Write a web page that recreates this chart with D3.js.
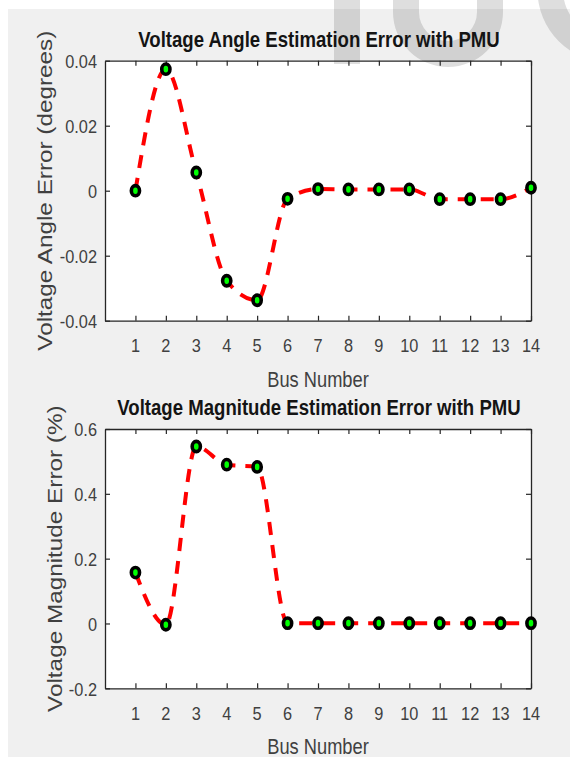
<!DOCTYPE html>
<html>
<head>
<meta charset="utf-8">
<script src="https://cdn.jsdelivr.net/npm/d3@7"></script>
<style>
  html, body { margin: 0; padding: 0; background: #ffffff; }
  svg { display: block; }
  text { font-family: "Liberation Sans", Arial, sans-serif; }
</style>
</head>
<body>
<svg id="chart" width="570" height="758"></svg>
<script>
// ---------------- data ----------------
const buses = [1, 2, 3, 4, 5, 6, 7, 8, 9, 10, 11, 12, 13, 14];
const angleError = [0.0000, 0.0374, 0.0056, -0.0277, -0.0337, -0.0025, 0.0005,
                    0.0004, 0.0004, 0.0004, -0.0026, -0.0026, -0.0026, 0.0009];
const magnitudeError = [0.157, -0.004, 0.546, 0.490, 0.483, 0.001, 0.001,
                        0.001, 0.001, 0.001, 0.001, 0.001, 0.001, 0.001];
const angleTicks = [-0.04, -0.02, 0, 0.02, 0.04];
const angleTickLabels = ["-0.04", "-0.02", "0", "0.02", "0.04"];
const magTicks = [-0.2, 0, 0.2, 0.4, 0.6];
const magTickLabels = ["-0.2", "0", "0.2", "0.4", "0.6"];
const xTickLabels = buses.map(String);
const titles = ["Voltage Angle Estimation Error  with PMU",
                "Voltage Magnitude Estimation Error with PMU"];
const yLabels = ["Voltage Angle Error (degrees)", "Voltage Magnitude Error (%)"];
const xLabel = "Bus Number";

// ---------------- layout ----------------
const svg = d3.select("#chart");
const SX = 0.86; // horizontal squeeze of the original picture's text

svg.append("rect").attr("x", 8).attr("y", 9).attr("width", 562).attr("height", 748)
  .attr("fill", "#f0f0f0");

const panels = [
  { top: 60.7, bottom: 320.7, ticks: angleTicks, labels: angleTickLabels,
    domain: [-0.04, 0.04], data: angleError, title: titles[0], ylab: yLabels[0], ylabX: 52 },
  { top: 429, bottom: 688.3, ticks: magTicks, labels: magTickLabels,
    domain: [-0.2, 0.6], data: magnitudeError, title: titles[1], ylab: yLabels[1], ylabX: 62 }
];
const left = 105, right = 531;

function addText(g, x, y, str, o) {
  const t = g.append("text")
    .attr("transform", `translate(${x},${y}) scale(${o.sx ?? SX},1)` + (o.rot ? ` rotate(${o.rot})` : ""))
    .attr("text-anchor", o.anchor || "middle")
    .attr("font-size", o.size)
    .attr("font-weight", o.weight || "normal")
    .attr("fill", o.fill || "#404040")
    .text(str);
  return t;
}

const x = d3.scaleLinear().domain([0, 14]).range([left, right]);

// plot area backgrounds
panels.forEach(p => {
  svg.append("rect").attr("x", left).attr("y", p.top)
    .attr("width", right - left).attr("height", p.bottom - p.top).attr("fill", "#ffffff");
});

// watermark (decorative)
const wm = svg.append("g").attr("fill", "#000").attr("fill-opacity", 0.13);
wm.append("rect").attr("x", 334).attr("y", 0).attr("width", 26).attr("height", 64);
wm.append("path").attr("d",
  "M393,0 L393,12 A55,55 0 0 0 503,12 L503,0 L477,0 L477,12 A29,29 0 0 1 419,12 L419,0 Z");
wm.append("path").attr("fill-rule", "evenodd").attr("d",
  "M682.5,-10 A72.5,72.5 0 1 0 537.5,-10 A72.5,72.5 0 1 0 682.5,-10 Z " +
  "M657,-10 A47,47 0 1 0 563,-10 A47,47 0 1 0 657,-10 Z");

panels.forEach(p => {
  const y = d3.scaleLinear().domain(p.domain).range([p.bottom, p.top]);
  const g = svg.append("g");

  // axes (ticks inward, box on)
  const ax = [
    g.append("g").attr("transform", `translate(0,${p.bottom})`)
      .call(d3.axisBottom(x).tickValues(buses).tickSize(-5).tickSizeOuter(0).tickFormat("")),
    g.append("g").attr("transform", `translate(0,${p.top})`)
      .call(d3.axisTop(x).tickValues(buses).tickSize(-5).tickSizeOuter(0).tickFormat("")),
    g.append("g").attr("transform", `translate(${left},0)`)
      .call(d3.axisLeft(y).tickValues(p.ticks).tickSize(-5).tickSizeOuter(0).tickFormat("")),
    g.append("g").attr("transform", `translate(${right},0)`)
      .call(d3.axisRight(y).tickValues(p.ticks).tickSize(-5).tickSizeOuter(0).tickFormat(""))
  ];
  ax.forEach(a => {
    a.selectAll("path.domain").attr("stroke", "#262626").attr("stroke-width", 1.3);
    a.selectAll(".tick line").attr("stroke", "#262626").attr("stroke-width", 1.2);
  });

  // tick labels
  buses.forEach((b, i) => addText(g, x(b), p.bottom + 31.5, xTickLabels[i], { size: 19 }));
  p.ticks.forEach((t, i) => addText(g, 97, y(t) + 7.3, p.labels[i], { size: 19, anchor: "end" }));

  // axis labels and title
  addText(g, (left + right) / 2, p.bottom + 66, xLabel, { size: 21.5, sx: 0.85 });
  addText(g, p.ylabX, (p.top + p.bottom) / 2, p.ylab, { size: 24.3, rot: -90 });
  addText(g, (left + right) / 2 + 1, p.top - 14, p.title,
    { size: 22, weight: "bold", sx: 0.845, fill: "#141414" });

  // red dashed curve
  const line = d3.line().x((d, i) => x(buses[i])).y(d => y(d)).curve(d3.curveMonotoneX);
  g.append("path").datum(p.data).attr("d", line)
    .attr("fill", "none").attr("stroke", "#ff0000").attr("stroke-width", 4)
    .attr("stroke-dasharray", "13,10");

  // markers
  g.selectAll("ellipse.m").data(p.data).enter().append("ellipse")
    .attr("class", "m")
    .attr("cx", (d, i) => x(buses[i])).attr("cy", d => y(d))
    .attr("rx", 4.1).attr("ry", 5.1)
    .attr("fill", "#00ff00").attr("stroke", "#000").attr("stroke-width", 3.6);
});
</script>
</body>
</html>
